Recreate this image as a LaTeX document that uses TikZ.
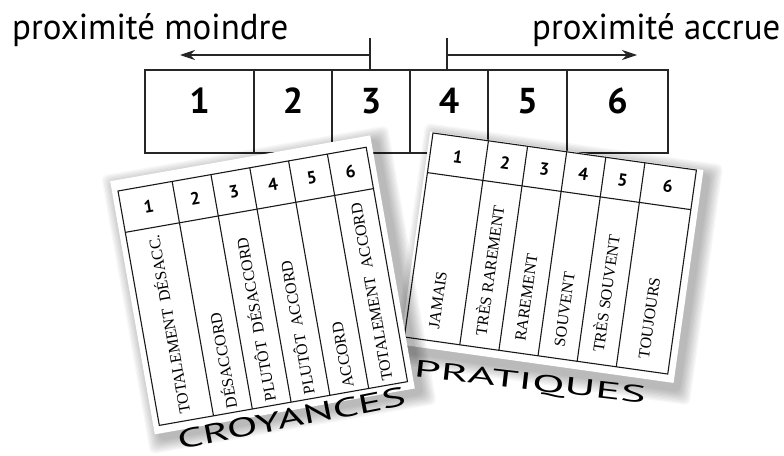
\documentclass[tikz,border=0pt]{standalone}
\usepackage{fontspec}
\usepackage{graphicx}
\setmainfont{Liberation Serif}
\setsansfont{PT Sans}
\usetikzlibrary{arrows.meta}
\begin{document}
\begin{tikzpicture}[x=1pt,y=-1pt,
  boxline/.style={line width=1.7pt, draw=black!85},
  tabline/.style={line width=1.1pt, draw=black!90},
  bignum/.style={font=\fontsize{36}{36}\selectfont\sffamily\bfseries, inner sep=0pt},
  hdrnum/.style={font=\fontsize{17.5}{17.5}\selectfont\sffamily\bfseries, inner sep=0pt},
  collabel/.style={font=\fontsize{16}{16}\selectfont\rmfamily, rotate=90, anchor=west, inner sep=0pt, text height=10.6pt, text depth=0pt},
  toplabel/.style={font=\sffamily, inner sep=0pt, anchor=base west},
  cardtitle/.style={font=\sffamily, inner sep=0pt, anchor=base},
  tickline/.style={line width=1.1pt, draw=black!85},
  arr/.style={-{Stealth[length=15pt,width=10pt]}, line width=1.1pt, draw=black!85},
  shadowlayer/.style={fill=black, opacity=0.033, rounded corners=6pt}
]
\useasboundingbox (0,0) rectangle (784,455);

% top labels
\node[toplabel] (lm) at (12,39) {\resizebox{276pt}{26pt}{proximité moindre}};
\node[toplabel] (la) at (532,39) {\resizebox{248pt}{26pt}{proximité accrue}};

% arrows
\coordinate (lt0) at (370,38); \coordinate (lt1) at (370,69);
\coordinate (ls) at (370,55);  \coordinate (le) at (180,55);
\coordinate (rt0) at (447,38); \coordinate (rt1) at (447,69);
\coordinate (rs) at (447,55);  \coordinate (re) at (637,55);
\draw[tickline] (lt0) -- (lt1);
\draw[arr] (ls) -- (le);
\draw[tickline] (rt0) -- (rt1);
\draw[arr] (rs) -- (re);

% scale box
\coordinate (bx0) at (145,70); \coordinate (bx1) at (668,153);
\draw[boxline] (bx0) rectangle (bx1);
\foreach \x in {254,332,410,488,567} \draw[boxline] (\x,70) -- (\x,153);
\node[bignum] (b1) at (199.5,101) {1};
\node[bignum] (b2) at (293,101) {2};
\node[bignum] (b3) at (371,101) {3};
\node[bignum] (b4) at (449,101) {4};
\node[bignum] (b5) at (527.5,101) {5};
\node[bignum] (b6) at (617.5,101) {6};

% PRATIQUES card
\begin{scope}[shift={(433,133)}, rotate=-8, transform shape]
  \foreach \k in {1,...,10}
    \fill[shadowlayer] ({4-1.3*\k},{4-1.3*\k}) rectangle ({279+1.3*\k},{221+1.3*\k});
  \fill[white] (-3,-1) rectangle (273,214);
  \draw[tabline] (0,0) rectangle (266,206);
  \draw[tabline] (0,40) -- (266,40);
  \foreach \x in {56,95.5,135,174.5,214} \draw[tabline] (\x,0) -- (\x,206);
  \node[hdrnum] (p1) at (28,20) {1};
  \node[hdrnum] (p2) at (75.75,20) {2};
  \node[hdrnum] (p3) at (115.25,20) {3};
  \node[hdrnum] (p4) at (154.75,20) {4};
  \node[hdrnum] (p5) at (194.25,20) {5};
  \node[hdrnum] (p6) at (240,20) {6};
  \node[collabel] (pl1) at (28,194) {JAMAIS};
  \node[collabel] (pl2) at (75.75,194) {TRÈS RAREMENT};
  \node[collabel] (pl3) at (115.25,194) {RAREMENT};
  \node[collabel] (pl4) at (154.75,194) {SOUVENT};
  \node[collabel] (pl5) at (194.25,194) {TRÈS SOUVENT};
  \node[collabel] (pl6) at (240,194) {TOUJOURS};
  \node[cardtitle, rotate=1.5] (pt) at (131,241) {\resizebox{233pt}{17pt}{PRATIQUES}};
\end{scope}

% CROYANCES card
\begin{scope}[shift={(118,191)}, rotate=10, transform shape]
  \foreach \k in {1,...,10}
    \fill[shadowlayer] ({-1-1.3*\k},{-5-1.3*\k}) rectangle ({264+1.3*\k},{252+1.3*\k});
  \fill[white] (-6,-11) rectangle (258,246);
  \draw[tabline] (0,0) rectangle (252,238);
  \draw[tabline] (0,42) -- (252,42);
  \foreach \x in {55,94.4,133.8,173.2,212.6} \draw[tabline] (\x,0) -- (\x,238);
  \node[hdrnum] (c1) at (27.5,21) {1};
  \node[hdrnum] (c2) at (74.7,21) {2};
  \node[hdrnum] (c3) at (114.1,21) {3};
  \node[hdrnum] (c4) at (153.5,21) {4};
  \node[hdrnum] (c5) at (192.9,21) {5};
  \node[hdrnum] (c6) at (232.3,21) {6};
  \node[collabel] (cl1) at (27.5,231) {TOTALEMENT\ \ DÉSACC.};
  \node[collabel] (cl2) at (74.7,234) {DÉSACCORD};
  \node[collabel] (cl3) at (114.1,234) {PLUTÔT\ \ DÉSACCORD};
  \node[collabel] (cl4) at (153.5,234) {PLUTÔT\ \ ACCORD};
  \node[collabel] (cl5) at (192.9,234) {ACCORD};
  \node[collabel] (cl6) at (232.3,234) {TOTALEMENT\ \ ACCORD};
  \node[cardtitle, rotate=1] (ct) at (131.5,263) {\resizebox{232pt}{19pt}{CROYANCES}};
\end{scope}
\end{tikzpicture}
\end{document}
